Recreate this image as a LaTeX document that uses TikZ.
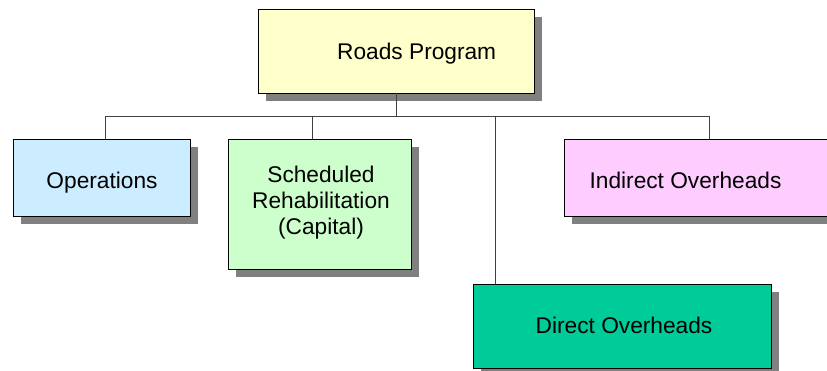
\documentclass[tikz,border=0pt]{standalone}
\usepackage{fontspec}
\setmainfont{Liberation Sans}
\usetikzlibrary{shadows}
\definecolor{cRoad}{HTML}{FFFFCC}
\definecolor{cOps}{HTML}{CCECFF}
\definecolor{cSch}{HTML}{CCFFCC}
\definecolor{cInd}{HTML}{FFCCFF}
\definecolor{cDir}{HTML}{00CC99}
\definecolor{cShadow}{HTML}{808080}
\begin{document}
\begin{tikzpicture}[x=1pt,y=-1pt,
  box/.style={draw=black,line width=0.9pt,rectangle,inner sep=0pt,
    drop shadow={shadow xshift=8pt,shadow yshift=-8pt,fill=cShadow,opacity=1}},
  lbl/.style={font=\fontsize{22.7}{26}\selectfont,inner sep=0pt,anchor=base,align=center},
  conn/.style={draw=black!75,line width=0.9pt}]
\useasboundingbox (0,0) rectangle (827,371);
\clip (0,0) rectangle (827,371);
\fill[white] (0,0) rectangle (827,371);
% boxes
\node[box,fill=cRoad,minimum width=276pt,minimum height=84pt] (root) at (396,51) {};
\node[box,fill=cOps,minimum width=177pt,minimum height=77pt] (ops) at (101.5,177.5) {};
\node[box,fill=cSch,minimum width=183pt,minimum height=130pt] (sch) at (319.5,204) {};
\node[box,fill=cInd,minimum width=276pt,minimum height=77pt] (ind) at (702,177.5) {};
\node[box,fill=cDir,minimum width=298pt,minimum height=84pt] (dir) at (622,326) {};
% labels
\node[lbl] (troot) at (416.7,60) {Roads Program};
\node[lbl] (tops) at (102,189) {Operations};
\node[lbl] (tsch) at (321,234.7) {Scheduled\\Rehabilitation\\(Capital)};
\node[lbl] (tind) at (685.5,189) {Indirect Overheads};
\node[lbl] (tdir) at (624,334) {Direct Overheads};
% connectors
\coordinate (bus) at (396,116);
\coordinate (b1) at (105,116);
\coordinate (b2) at (312,116);
\coordinate (b3) at (495,116);
\coordinate (b4) at (709,116);
\draw[conn] (root.south) -- (bus);
\draw[conn] (b1) -- (b4);
\draw[conn] (b1) -- (b1 |- ops.north);
\draw[conn] (b2) -- (b2 |- sch.north);
\draw[conn] (b3) -- (b3 |- dir.north);
\draw[conn] (b4) -- (b4 |- ind.north);
\end{tikzpicture}
\end{document}
